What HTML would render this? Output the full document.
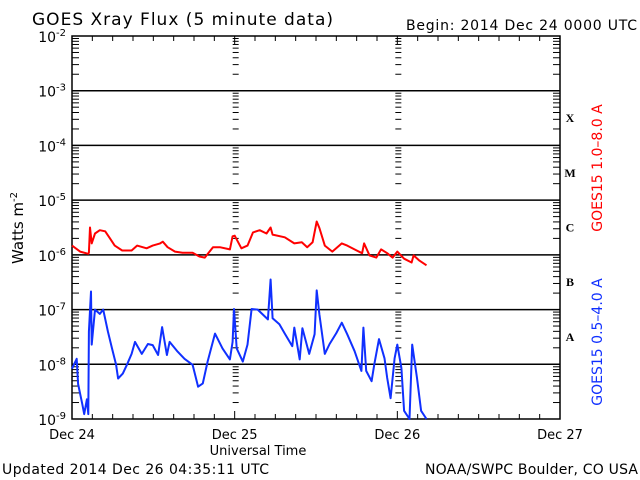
<!DOCTYPE html>
<html><head><meta charset="utf-8"><style>
html,body{margin:0;padding:0;background:#fff;}
svg{display:block;font-family:"DejaVu Sans","Liberation Sans",sans-serif;}
</style></head><body>
<svg id="chart" width="640" height="480" viewBox="0 0 640 480" xmlns="http://www.w3.org/2000/svg">
<rect x="0" y="0" width="640" height="480" fill="#fff"/>
<text x="32" y="25" font-size="17" letter-spacing="1" textLength="302">GOES Xray Flux (5 minute data)</text>
<text x="406" y="30" font-size="14" textLength="231">Begin:  2014 Dec 24 0000 UTC</text>
<text x="258" y="455" font-size="13" text-anchor="middle">Universal Time</text>
<text x="2" y="474" font-size="14" textLength="267">Updated 2014 Dec 26 04:35:11 UTC</text>
<text x="425" y="474" font-size="14" textLength="213">NOAA/SWPC Boulder, CO USA</text>
<text transform="translate(23,228) rotate(-90)" font-size="15" text-anchor="middle">Watts m<tspan dy="-6" font-size="10">-2</tspan></text>
<text transform="translate(602,168) rotate(-90)" font-size="14" fill="#ff0000" text-anchor="middle">GOES15 1.0–8.0 A</text>
<text transform="translate(602,342) rotate(-90)" font-size="14" fill="#1030ff" text-anchor="middle">GOES15 0.5–4.0 A</text>
<g id="axes"></g>
<g id="series"></g>
</svg>
<script>
// data: hours since Dec 24 00:00 UTC, log10 flux (W/m^2)
const redHours = [0.0,1.2,2.4,2.5,2.65,2.9,3.4,4.1,4.9,5.6,6.3,7.4,8.8,9.6,11.0,11.9,13.0,13.4,14.1,15.2,16.3,17.8,18.8,19.6,20.8,21.8,23.3,23.7,24.0,25.0,25.9,26.7,27.7,28.7,29.3,29.6,31.4,32.8,33.9,34.7,35.5,36.1,36.5,37.3,38.4,39.8,40.6,42.0,42.8,43.1,43.9,44.9,45.6,46.5,47.3,48.0,49.0,50.1,50.4,51.2,52.3];
const redLog = [-5.83,-5.94,-5.98,-5.96,-5.50,-5.79,-5.61,-5.55,-5.57,-5.70,-5.83,-5.92,-5.92,-5.83,-5.88,-5.83,-5.79,-5.76,-5.86,-5.94,-5.96,-5.96,-6.03,-6.05,-5.86,-5.86,-5.90,-5.66,-5.65,-5.88,-5.83,-5.59,-5.55,-5.61,-5.50,-5.63,-5.68,-5.79,-5.77,-5.86,-5.77,-5.39,-5.51,-5.83,-5.94,-5.79,-5.83,-5.92,-5.97,-5.79,-6.01,-6.05,-5.90,-5.97,-6.05,-5.94,-6.07,-6.14,-6.01,-6.10,-6.19];
const blueHours = [0.0,0.7,0.9,1.5,1.8,2.2,2.4,2.5,2.8,2.9,3.4,4.1,4.6,5.3,5.9,6.5,6.8,7.5,8.1,8.8,9.3,10.3,11.2,11.9,12.7,13.3,14.0,14.4,15.6,16.6,17.8,18.6,19.3,20.0,21.1,22.2,23.3,23.7,23.9,24.3,25.2,25.9,26.5,27.4,28.9,29.3,29.6,30.6,31.4,32.5,32.8,33.6,34.0,35.0,35.8,36.1,36.5,37.3,38.0,39.0,39.8,40.6,41.7,42.7,43.0,43.4,44.2,44.6,45.3,46.1,46.5,47.0,47.6,48.0,48.6,49.0,49.8,50.2,50.9,51.5,52.3];
const blueLog = [-8.08,-7.90,-8.36,-8.72,-8.91,-8.64,-8.91,-7.40,-6.67,-7.64,-7.00,-7.08,-7.00,-7.40,-7.71,-8.01,-8.26,-8.17,-8.01,-7.81,-7.59,-7.81,-7.63,-7.65,-7.83,-7.32,-7.83,-7.59,-7.77,-7.90,-8.01,-8.41,-8.35,-7.95,-7.44,-7.71,-7.91,-7.59,-6.99,-7.71,-7.95,-7.64,-6.99,-7.00,-7.18,-6.45,-7.16,-7.27,-7.44,-7.67,-7.33,-7.91,-7.34,-7.81,-7.45,-6.65,-7.09,-7.81,-7.63,-7.43,-7.24,-7.45,-7.76,-8.12,-7.33,-8.12,-8.31,-8.00,-7.54,-7.89,-8.25,-8.62,-7.89,-7.64,-8.07,-8.85,-9.0,-7.64,-8.25,-8.85,-9.0];
const yExponents = [-2,-3,-4,-5,-6,-7,-8,-9];
const dayLabels = ["Dec 24","Dec 25","Dec 26","Dec 27"];
const classLabels = ["X","M","C","B","A"];

const L=72,R=560,T=36,B=419;
const xScale = h => L + (R-L)*h/72;
const yScale = lg => T + (B-T)*(-2-lg)/7;
const NS="http://www.w3.org/2000/svg";
const axes=document.getElementById('axes'), series=document.getElementById('series');
function mk(tag, parent, attrs){const e=document.createElementNS(NS,tag);for(const k in attrs)e.setAttribute(k,attrs[k]);parent.appendChild(e);return e;}

const frame = mk('rect',axes,{x:L,y:T,width:R-L,height:B-T,fill:'none',stroke:'#000','stroke-width':1.5});



yExponents.forEach(ex=>{
  const y=yScale(ex);
  if(ex<-2 && ex>-9){
    const g=mk('line',axes,{x1:L,x2:R,y1:y,y2:y,stroke:'#000','stroke-width':1.5});
    
    
  }
  const t=mk('text',axes,{x:66,y:y+6,'font-size':14,'text-anchor':'end'});
  
  
  t.innerHTML='10<tspan dy="-6" font-size="10">'+ex+'</tspan>';
  if(ex>-9){
    for(let m=2;m<=9;m++){
      const yy=yScale(ex-1+Math.log10(m));
      [[L,L+7],[R-7,R],[xScale(24)-2,xScale(24)+4],[xScale(48)-2,xScale(48)+4]].forEach(p=>{
        const tk=mk('line',axes,{x1:p[0],x2:p[1],y1:yy,y2:yy,stroke:'#000','stroke-width':1});
        
        
      });
    }
  }
});
for(let h=0;h<=72;h+=3){
  const x=xScale(h);
  const len = h%24===0?8:5;
  const a=mk('line',axes,{x1:x,x2:x,y1:B,y2:B-len,stroke:'#000','stroke-width':1});
  
  
  const b=mk('line',axes,{x1:x,x2:x,y1:T,y2:T+len,stroke:'#000','stroke-width':1});
  
  
}
dayLabels.forEach((d,i)=>{
  const t=mk('text',axes,{x:xScale(i*24),y:439,'font-size':13,'text-anchor':'middle'});
  
  
  t.textContent=d;
});
classLabels.forEach((c,i)=>{
  const t=mk('text',axes,{x:570,y:yScale(-3.5-i)+4,'font-size':12,'font-weight':'bold','text-anchor':'middle','font-family':'"Liberation Serif",serif'});
  
  
  t.textContent=c;
});
function line(hours,logs,color,name){
  const d=hours.map((h,i)=>(i?'L':'M')+xScale(h).toFixed(1)+' '+yScale(Math.max(-9,logs[i])).toFixed(1)).join(' ');
  const p=mk('path',series,{d:d,fill:'none',stroke:color,'stroke-width':2,'stroke-linejoin':'round'});
  
  
}
line(redHours,redLog,'#ff0000','long-channel-line');
line(blueHours,blueLog,'#1030ff','short-channel-line');
</script>
</body></html>
